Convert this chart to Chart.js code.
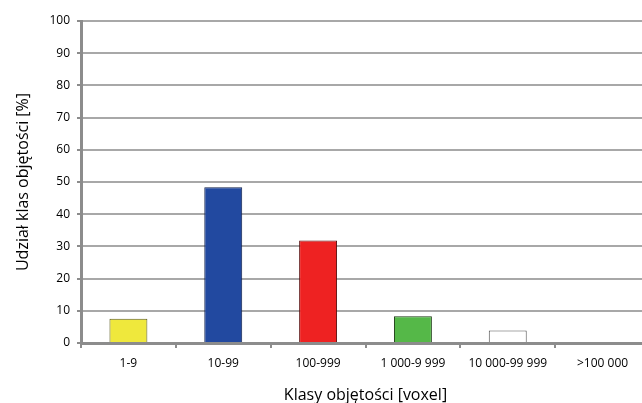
<!DOCTYPE html>
<html>
<head>
<meta charset="utf-8">
<script src="https://cdn.jsdelivr.net/npm/chart.js@4"></script>
<style>
    html, body { margin: 0; padding: 0; background: #fff; overflow: hidden; }
    #wrap { position: relative; width: 660px; height: 403px; }
</style>
</head>
<body>
<div id="wrap"><canvas id="myChart"></canvas></div>
<script>
// Chart data
const categories = ['1-9', '10-99', '100-999', '1 000-9 999', '10 000-99 999', '>100 000'];
const shares = [7.5, 48.4, 31.8, 8.3, 3.9, 0];
const barColors = ['#efe83c', '#2249a0', '#ee2222', '#55b848', '#ffffff', '#ffffff'];
const barBorders = ['#5a5a1e', '#10204a', '#5a1010', '#1c3a14', '#505050', '#505050'];
const yTicks = [0, 10, 20, 30, 40, 50, 60, 70, 80, 90, 100];

const font = "'Open Sans', 'Noto Sans', sans-serif";

const ctx = document.getElementById('myChart').getContext('2d');
const myChart = new Chart(ctx, {
    type: 'bar',
    data: {
        labels: categories,
        datasets: [{
            data: shares,
            backgroundColor: barColors,
            borderColor: barBorders,
            borderWidth: 1,
            barPercentage: 0.4,
            categoryPercentage: 1.0
        }]
    },
    options: {
        responsive: true,
        maintainAspectRatio: false,
        animation: false,
        layout: { padding: { left: 0, top: 21, right: 10, bottom: 0 } },
        plugins: {
            legend: { display: false },
            tooltip: { enabled: false }
        },
        scales: {
            x: {
                grid: {
                    drawOnChartArea: false,
                    drawTicks: true,
                    tickLength: 5,
                    color: '#8c8c8c',
                    lineWidth: 2
                },
                border: { color: '#8c8c8c', width: 3 },
                ticks: {
                    color: '#000',
                    padding: 8,
                    maxRotation: 0,
                    font: { family: font, size: 12 }
                },
                title: {
                    display: true,
                    text: 'Klasy objętości [voxel]',
                    color: '#000',
                    padding: { top: 8, bottom: -2 },
                    font: { family: font, size: 16 }
                },
                afterFit: function (scale) { scale.height = 60; }
            },
            y: {
                min: 0,
                max: 100,
                afterBuildTicks: function (scale) {
                    scale.ticks = yTicks.map(v => ({ value: v }));
                },
                grid: {
                    color: '#a8a8a8',
                    lineWidth: 2,
                    tickLength: 4,
                    tickColor: '#8c8c8c'
                },
                border: { color: '#8c8c8c', width: 3 },
                ticks: {
                    color: '#000',
                    padding: 7,
                    font: { family: font, size: 12 }
                },
                title: {
                    display: true,
                    text: 'Udział klas objętości [%]',
                    color: '#000',
                    padding: { top: 14, bottom: 4 },
                    font: { family: font, size: 16 }
                },
                afterFit: function (scale) { scale.width = 81; }
            }
        }
    }
});
</script>
</body>
</html>
